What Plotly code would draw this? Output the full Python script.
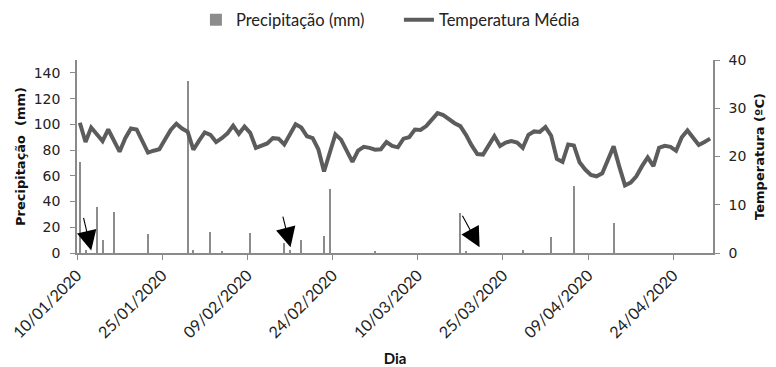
import pandas as pd
import plotly.graph_objects as go

start = "2020-01-10"
n_days = 112
dates = pd.date_range(start, periods=n_days, freq="D")

temperature = [
    27.0, 23.0, 26.0, 24.6, 23.2, 25.6, 23.3, 21.0, 23.8, 25.8,
    25.6, 23.2, 20.8, 21.2, 21.5, 23.5, 25.5, 26.8, 25.8, 25.1,
    21.4, 23.3, 25.0, 24.5, 23.0, 23.8, 24.8, 26.4, 24.7, 26.2,
    24.9, 21.8, 22.3, 22.7, 23.8, 23.7, 22.5, 24.6, 26.7, 26.0,
    24.2, 23.8, 21.5, 16.9, 20.7, 24.6, 23.5, 21.3, 18.9, 21.2,
    22.0, 21.8, 21.4, 21.5, 23.0, 22.2, 21.9, 23.7, 24.0, 25.6,
    25.5, 26.3, 27.6, 29.0, 28.6, 27.7, 26.9, 26.3, 24.5, 22.3,
    20.5, 20.4, 22.3, 24.2, 22.2, 22.9, 23.2, 22.9, 21.8, 24.5,
    25.2, 25.1, 26.1, 24.3, 19.5, 18.9, 22.5, 22.3, 18.8, 17.3,
    16.2, 15.9, 16.5, 19.2, 22.1, 17.9, 14.0, 14.6, 15.9, 18.0,
    19.8, 18.0, 21.8, 22.2, 22.0, 21.2, 24.0, 25.4, 23.8, 22.4,
    23.0, 23.7,
]

# rain days: day index from 10/01/2020 -> mm
rain_day_index = [0, 1, 3, 4, 6, 12, 19, 20, 23, 25, 30, 36, 37, 39, 43, 44, 52, 67, 68, 78, 83, 87, 94]
rain_mm = [71, 2.5, 35.5, 10, 32, 15, 134, 2.5, 16.5, 1, 15.5, 8, 2.5, 10, 13.5, 49.5, 1, 31, 1, 2.5, 12.5, 52, 23]

precip = [0.0] * n_days
for d, v in zip(rain_day_index, rain_mm):
    precip[d] = v

# arrows: (day index, mm at tip)
arrow_days = [2, 37.1, 70.4]
arrow_mm = [2, 4.5, 4.5]
arrow_offsets = [(-8, -34), (-8, -32), (-18, -33)]

tick_dates = pd.date_range(start, periods=8, freq="15D")
tick_text = [d.strftime("%d/%m/%Y") for d in tick_dates]

half_day = pd.Timedelta(hours=12)
x_centers = dates + half_day

fig = go.Figure()
fig.add_trace(go.Bar(
    x=x_centers, y=precip, name="Precipitação (mm)",
    marker=dict(color="#8c8c8c", line=dict(width=0)),
    width=0.36 * 86400000,
    yaxis="y",
))
fig.add_trace(go.Scatter(
    x=x_centers, y=temperature, name="Temperatura Média",
    mode="lines", line=dict(color="#5c5c5c", width=4),
    yaxis="y2",
))

for d, mm, (ax, ay) in zip(arrow_days, arrow_mm, arrow_offsets):
    xd = pd.Timestamp(start) + pd.Timedelta(days=d) + half_day
    fig.add_annotation(
        x=xd, y=mm, xref="x", yref="y", text="", showarrow=True,
        ax=ax, ay=ay, arrowhead=2, arrowsize=3.6, arrowwidth=1.1,
        arrowcolor="black",
    )

axis_col = "#8a8a8a"
fig.update_layout(
    width=768, height=359,
    margin=dict(l=69, r=63, t=52, b=114, autoexpand=False),
    plot_bgcolor="white", paper_bgcolor="white",
    bargap=0,
    showlegend=True,
    legend=dict(
        orientation="h", x=0.187, xanchor="left", y=1.207, yanchor="middle",
        font=dict(family="Lato", size=16.5, color="#222"),
        itemwidth=30, traceorder="normal",
        entrywidth=158, entrywidthmode="pixels",
    ),
    xaxis=dict(
        type="date", automargin=False,
        range=[pd.Timestamp(start), pd.Timestamp(start) + pd.Timedelta(days=n_days)],
        tickvals=list(tick_dates), ticktext=tick_text, tickangle=-45,
        ticks="outside", ticklen=5, tickcolor=axis_col,
        showline=True, linecolor=axis_col, linewidth=1.5,
        showgrid=False, zeroline=False,
        tickfont=dict(family="Lato", size=16, color="#222"),
        title=dict(text="<b>Dia</b>", font=dict(family="Lato", size=15, color="#111")),
    ),
    yaxis=dict(
        range=[0, 150], tickvals=[0, 20, 40, 60, 80, 100, 120, 140], automargin=False,
        ticks="outside", ticklen=5, tickcolor=axis_col, ticklabelstandoff=7,
        showline=True, linecolor=axis_col, linewidth=1.5,
        showgrid=False, zeroline=False,
        tickfont=dict(family="DejaVu Sans", size=14, color="#222"),
        title=dict(text="<b>Precipitação  (mm)</b>", font=dict(family="DejaVu Sans", size=13, color="#111"), standoff=5),
    ),
    yaxis2=dict(
        range=[0, 40], tickvals=[0, 10, 20, 30, 40], overlaying="y", side="right", automargin=False,
        ticks="outside", ticklen=5, tickcolor=axis_col, ticklabelstandoff=6,
        showline=True, linecolor=axis_col, linewidth=1.5,
        showgrid=False, zeroline=False,
        tickfont=dict(family="DejaVu Sans", size=14, color="#222"),
        title=dict(text="<b>Temperatura (ºC)</b>", font=dict(family="DejaVu Sans", size=13, color="#111"), standoff=10),
    ),
)

fig.write_html("out.html")
